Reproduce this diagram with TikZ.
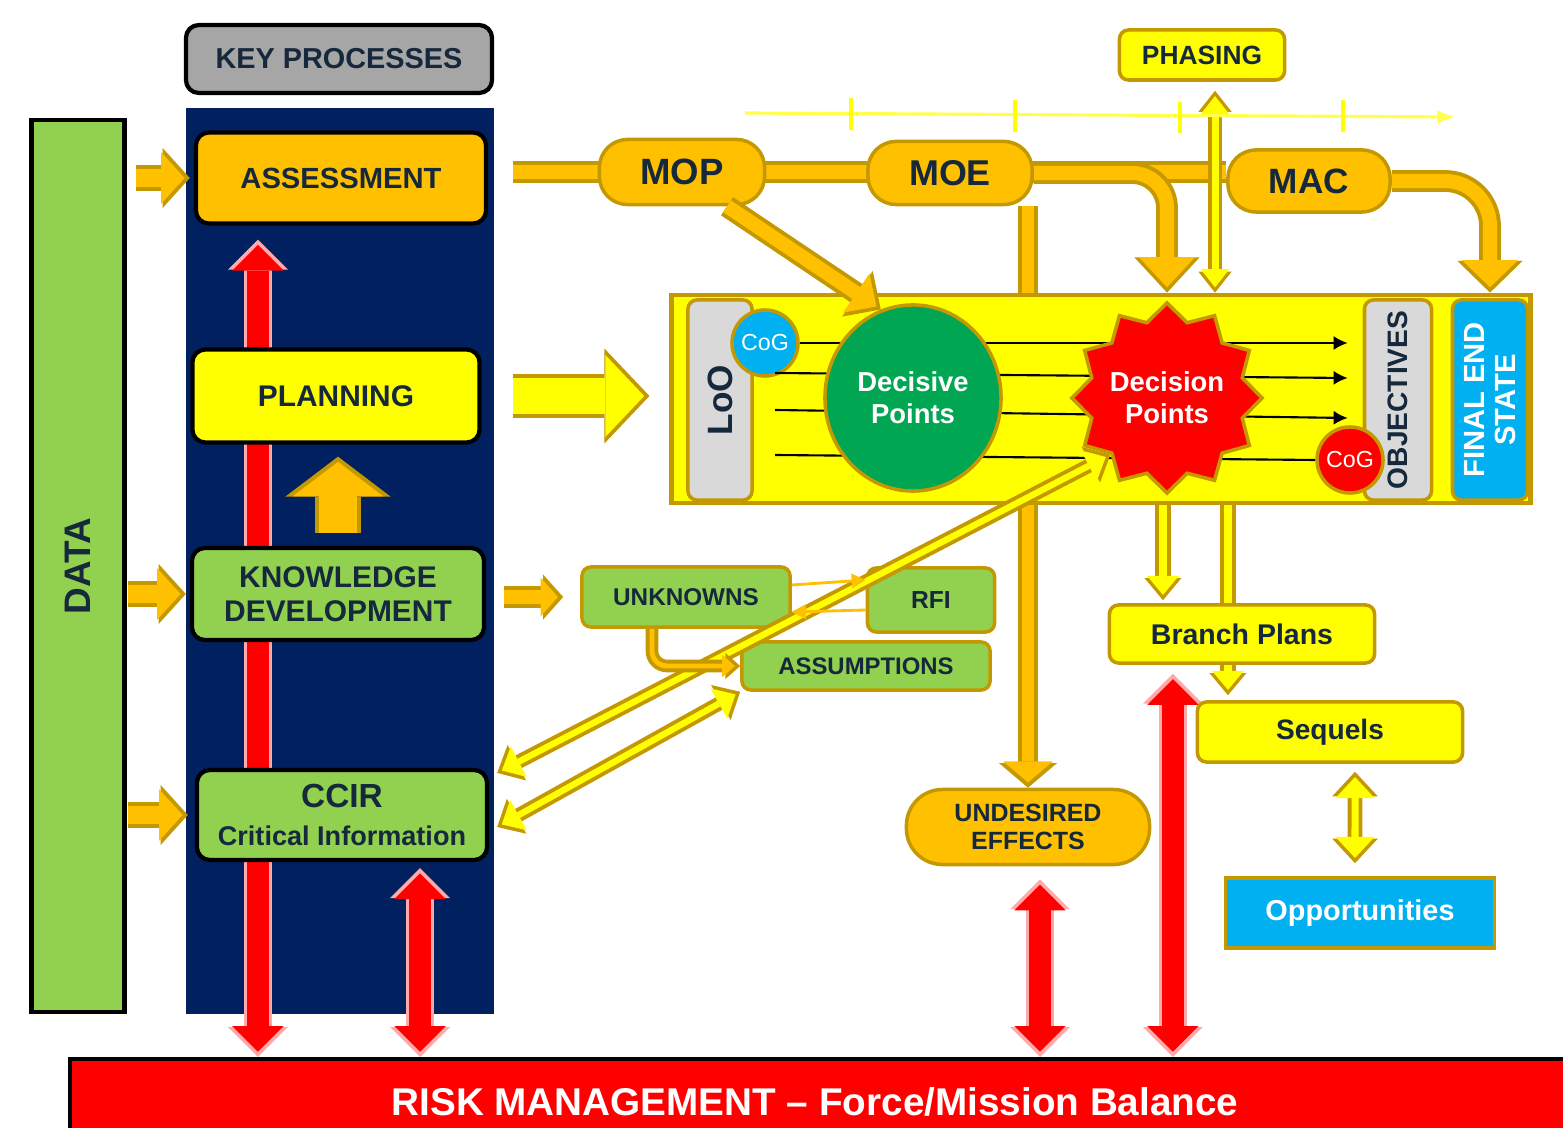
\documentclass[tikz,border=0pt]{standalone}
\usepackage{fontspec}
\setmainfont{Liberation Sans}
\usetikzlibrary{arrows.meta}
\usetikzlibrary{shapes.geometric}
\usetikzlibrary{positioning}
\definecolor{amber}{RGB}{255,192,0}
\definecolor{gold}{RGB}{196,152,0}
\definecolor{lemon}{RGB}{255,255,0}
\definecolor{navy}{RGB}{0,32,96}
\definecolor{leaf}{RGB}{146,208,80}
\definecolor{emerald}{RGB}{0,166,81}
\definecolor{sky}{RGB}{0,176,240}
\definecolor{scarlet}{RGB}{255,0,0}
\definecolor{ink}{RGB}{22,40,60}
\definecolor{silver}{RGB}{166,166,166}
\definecolor{mist}{RGB}{217,217,217}
\definecolor{blush}{RGB}{255,170,170}

\pgfdeclarelayer{bg}
\pgfdeclarelayer{mid}
\pgfsetlayers{bg,mid,main}

\newcommand{\fnt}[2]{\fontsize{#1}{#2}\selectfont\bfseries}

\tikzset{
  keybox/.style={draw=black, line width=1.2pt, rounded corners=0.13cm, text=ink, align=center, inner sep=1pt},
  goldbox/.style={draw=gold, line width=1pt, rounded corners=0.09cm, text=ink, align=center, inner sep=1pt},
  pill/.style={goldbox, fill=amber, rounded corners=0.28cm},
  cogdot/.style={circle, draw=gold, line width=1pt, minimum size=0.66cm, inner sep=0pt, text=white, font=\fontsize{6.6}{8}\selectfont},
  loline/.style={black, line width=0.6pt, -{Latex[length=4pt,width=4pt]}},
  fat/.style n args={5}{draw=#1, line width=#3, shorten >=1.5pt,
    -{Triangle[width=#4, length=#5, line width=0pt, scale=0.86]},
    preaction={draw=#2, line width=#3+2.2pt, shorten >=0pt,
      -{Triangle[width=#4, length=#5, line width=0pt]}}},
  fatboth/.style n args={5}{draw=#1, line width=#3, shorten >=1.5pt, shorten <=1.5pt,
    {Triangle[width=#4, length=#5, line width=0pt, scale=0.86]}-{Triangle[width=#4, length=#5, line width=0pt, scale=0.86]},
    preaction={draw=#2, line width=#3+2.2pt, shorten >=0pt, shorten <=0pt,
      {Triangle[width=#4, length=#5, line width=0pt]}-{Triangle[width=#4, length=#5, line width=0pt]}}},
  band/.style={draw=amber, line width=#1, preaction={draw=gold, line width=#1+2.2pt}},
}

\begin{document}
\begin{tikzpicture}[x=0.01cm, y=-0.01cm]
\useasboundingbox (0,0) rectangle (1563,1128);

% key processes column
\begin{pgfonlayer}{bg}
  \fill[navy] (186,108) rectangle (494,1014);
\end{pgfonlayer}
\node[draw=black, line width=1.2pt, fill=leaf, minimum width=0.93cm, minimum height=8.92cm, inner sep=0pt,
  label={[rotate=90, text=ink, font=\fnt{10.5}{12}]center:DATA}] (data) at (78,566) {};
\node[keybox, fill=silver, minimum width=3.06cm, minimum height=0.68cm, font=\fnt{8.2}{10}] (keyp) at (339,59) {KEY PROCESSES};
\node[keybox, fill=amber, minimum width=2.9cm, minimum height=0.91cm, font=\fnt{8.3}{10}] (asmt) at (341,178) {ASSESSMENT};
\node[keybox, fill=lemon, minimum width=2.87cm, minimum height=0.93cm, font=\fnt{8.5}{10}] (plan) at (336,396) {PLANNING};
\node[keybox, fill=leaf, minimum width=2.92cm, minimum height=0.92cm, font=\fnt{8.5}{9.7}] (kd) at (338,594) {KNOWLEDGE\\DEVELOPMENT};
\node[keybox, fill=leaf, minimum width=2.9cm, minimum height=0.9cm] (ccir) at (342,815) {{\fnt{9.5}{11}CCIR}\\[-1pt]{\fnt{7.7}{9}Critical Information}};
\node[draw=black, line width=1.2pt, fill=scarlet, minimum width=15.3cm, minimum height=0.95cm, anchor=north west] (risk) at (68,1057) {};
\node[text=white, font=\fnt{11}{13}] (riskt) at (815,1102) {RISK MANAGEMENT – Force/Mission Balance};

% measures and phasing
\node[goldbox, fill=lemon, minimum width=1.65cm, minimum height=0.5cm, font=\fnt{7.5}{9}] (phase) at (1202,55) {PHASING};
\node[pill, minimum width=1.65cm, minimum height=0.65cm, font=\fnt{10.4}{12}] (mop) at (682,172) {MOP};
\node[pill, minimum width=1.64cm, minimum height=0.63cm, font=\fnt{10.2}{12}] (moe) at (950,173) {MOE};
\node[pill, minimum width=1.62cm, minimum height=0.62cm, font=\fnt{10}{12}] (mac) at (1309,181) {MAC};
\draw[lemon!70!white, line width=0.9pt, -{Latex[length=5pt,width=4pt]}] (745,113) -- (1455,117);
\draw[lemon, line width=1.2pt] (851,98) -- (851,130) (1015,100) -- (1015,132) (1180,102) -- (1180,133) (1343,100) -- (1343,132);

% lines of operation
\node[draw=gold, line width=1.3pt, fill=lemon, minimum width=8.58cm, minimum height=2.08cm] (lobox) at (1101,399) {};
\node[goldbox, fill=mist, minimum width=0.64cm, minimum height=2cm,
  label={[rotate=90, text=ink, font=\fnt{10}{12}]center:LoO}] (loo) at (720,400) {};
\node[goldbox, fill=mist, minimum width=0.67cm, minimum height=2cm,
  label={[rotate=90, text=ink, font=\fnt{8}{10}]center:OBJECTIVES}] (obj) at (1398,400) {};
\node[goldbox, fill=sky, minimum width=0.75cm, minimum height=2cm,
  label={[rotate=90, text=white, align=center, font=\fnt{8.3}{8.8}]center:FINAL END\\STATE}] (fes) at (1490,400) {};
\node[cogdot, fill=sky] (cog1) at (765,343) {CoG};
\node[cogdot, fill=scarlet] (cog2) at (1350,460) {CoG};
\draw[loline] (cog1.east) -- ([xshift=-0.15cm]obj.west |- cog1.east);
\draw[loline] ([xshift=0.55cm]loo.center |- 0,373) -- ([xshift=-0.15cm]obj.west |- 0,378);
\draw[loline] ([xshift=0.55cm]loo.center |- 0,410) -- ([xshift=-0.15cm]obj.west |- 0,418);
\draw[black, line width=0.6pt] ([xshift=0.55cm]loo.center |- 0,455) -- (cog2.west);
\node[ellipse, draw=gold, line width=1pt, fill=emerald, minimum width=1.76cm, minimum height=1.86cm, inner sep=0pt,
  text=white, align=center, font=\fnt{7.8}{9.1}] (dsv) at (913,398) {Decisive\\Points};
\node[star, star points=12, star point ratio=1.22, minimum size=1.9cm, inner sep=0pt, draw=gold, line width=1pt, fill=scarlet,
  label={[text=white, align=center, font=\fnt{7.8}{9.1}]center:Decision\\Points}] (dcp) at (1167,398) {};
\draw[fat={amber}{gold}{4pt}{15.6pt}{8pt}] ([xshift=0.45cm]mop.south) -- (dsv.110);

% information boxes
\node[goldbox, fill=leaf, minimum width=2.08cm, minimum height=0.6cm, font=\fnt{6.9}{8}] (unk) at (686,597) {UNKNOWNS};
\node[goldbox, fill=leaf, minimum width=1.27cm, minimum height=0.64cm, font=\fnt{7}{8}] (rfi) at (931,600) {RFI};
\node[goldbox, fill=leaf, minimum width=2.48cm, minimum height=0.48cm, font=\fnt{6.8}{8}] (asm) at (866,666) {ASSUMPTIONS};
\node[pill, minimum width=2.43cm, minimum height=0.75cm, rounded corners=0.36cm, font=\fnt{7.1}{8}] (ue) at (1028,827) {UNDESIRED\\EFFECTS};
\node[goldbox, fill=lemon, minimum width=2.65cm, minimum height=0.58cm, font=\fnt{8.1}{9}] (bp) at (1242,634) {Branch Plans};
\node[goldbox, fill=lemon, minimum width=2.65cm, minimum height=0.6cm, font=\fnt{8}{9}] (seq) at (1330,732) {Sequels};
\node[goldbox, fill=sky, rounded corners=0pt, text=white, minimum width=2.69cm, minimum height=0.7cm, font=\fnt{8.2}{9}] (opp) at (1360,913) {Opportunities};

\begin{pgfonlayer}{mid}
  % data in-flows
  \draw[fat={amber}{gold}{5pt}{17pt}{7.7pt}] ([xshift=-0.58cm]asmt.west) -- ([xshift=-0.04cm]asmt.west);
  \draw[fat={amber}{gold}{5pt}{17pt}{7.7pt}] ([xshift=-0.62cm]kd.west) -- ([xshift=-0.04cm]kd.west);
  \draw[fat={amber}{gold}{5pt}{17pt}{7.7pt}] ([xshift=-0.67cm]ccir.west) -- ([xshift=-0.07cm]ccir.west);
  % risk links
  \draw[fatboth={scarlet}{blush}{6pt}{17pt}{8.5pt}] ([xshift=-0.83cm,yshift=-0.14cm]asmt.south) -- ([xshift=-0.83cm]asmt.south |- risk.north);
  \draw[fatboth={scarlet}{blush}{6pt}{17pt}{8.5pt}] ([xshift=0.78cm,yshift=-0.06cm]ccir.south) -- ([xshift=0.78cm]ccir.south |- risk.north);
  \draw[fatboth={scarlet}{blush}{6pt}{17pt}{8.5pt}] ([xshift=0.12cm,yshift=-0.13cm]ue.south) -- ([xshift=0.12cm]ue.south |- risk.north);
  \draw[fatboth={scarlet}{blush}{6pt}{17pt}{8.5pt}] ([xshift=-0.69cm,yshift=-0.09cm]bp.south) -- ([xshift=-0.69cm]bp.south |- risk.north);
  % process flow
  \draw[fat={amber}{gold}{11pt}{30pt}{11.4pt}] ([yshift=0.13cm]kd.north) -- ([yshift=-0.12cm]kd.north |- plan.south);
  \draw[fat={lemon}{gold}{10.5pt}{27pt}{12.8pt}] ([xshift=0.31cm]plan.east) -- ([xshift=-0.2cm]lobox.west |- plan.east);
  \draw[fat={amber}{gold}{4pt}{12.8pt}{5.7pt}] ([xshift=0.18cm]kd.east |- unk.west) -- ([xshift=-0.17cm]unk.west);
  % measures chain
  \draw[band=4pt] ([xshift=0.25cm]asmt.east |- mop.west) -- (mac.west |- mop.west);
  \draw[fat={amber}{gold}{4pt}{18.5pt}{10pt}, rounded corners=0.35cm] (moe.east) -| (dcp.north |- lobox.north);
  \draw[fat={amber}{gold}{4pt}{18.5pt}{9pt}, rounded corners=0.45cm] (mac.east) -| (fes.north |- lobox.north);
  \draw[fat={amber}{gold}{3.5pt}{16.5pt}{7pt}] (ue.north |- moe.south) -- (ue.north);
  \draw[fatboth={lemon}{gold}{2pt}{9.5pt}{6pt}] ([xshift=0.13cm,yshift=-0.09cm]phase.south) -- ([xshift=0.13cm]phase.south |- lobox.north);
  % branches and sequels
  \draw[fat={lemon}{gold}{2.4pt}{10.5pt}{6.3pt}] ([xshift=-0.79cm]bp.north |- lobox.south) -- ([xshift=-0.79cm,yshift=0.03cm]bp.north);
  \draw[fat={lemon}{gold}{2.4pt}{10.5pt}{6.3pt}] ([xshift=-1.02cm]seq.north |- lobox.south) -- ([xshift=-1.02cm,yshift=0.05cm]seq.north);
  \draw[fatboth={lemon}{gold}{2pt}{13pt}{7pt}] ([xshift=0.25cm,yshift=-0.08cm]seq.south) -- ([xshift=-0.05cm,yshift=0.13cm]opp.north);
\end{pgfonlayer}

% feedback to CCIR
\draw[fatboth={lemon}{gold}{1.8pt}{11.4pt}{6.3pt}] ([xshift=0.08cm,yshift=-0.05cm]ccir.north east) -- (dcp.225);
\draw[fatboth={lemon}{gold}{1.8pt}{11.4pt}{6.3pt}] ([xshift=0.08cm,yshift=-0.12cm]ccir.east) -- (asm.south west);
\draw[fat={amber}{gold}{1.4pt}{7.4pt}{4.2pt}, rounded corners=0.15cm] ([xshift=-0.34cm]unk.south) |- (asm.west);
\draw[amber, line width=0.8pt, -{Triangle[length=4pt,width=4pt]}] ([yshift=0.12cm]unk.east) -- ([yshift=0.2cm]rfi.west);
\draw[amber, line width=0.8pt, -{Triangle[length=4pt,width=4pt]}] ([yshift=-0.1cm]rfi.west) -- ([yshift=-0.15cm]unk.east);
\end{tikzpicture}
\end{document}
